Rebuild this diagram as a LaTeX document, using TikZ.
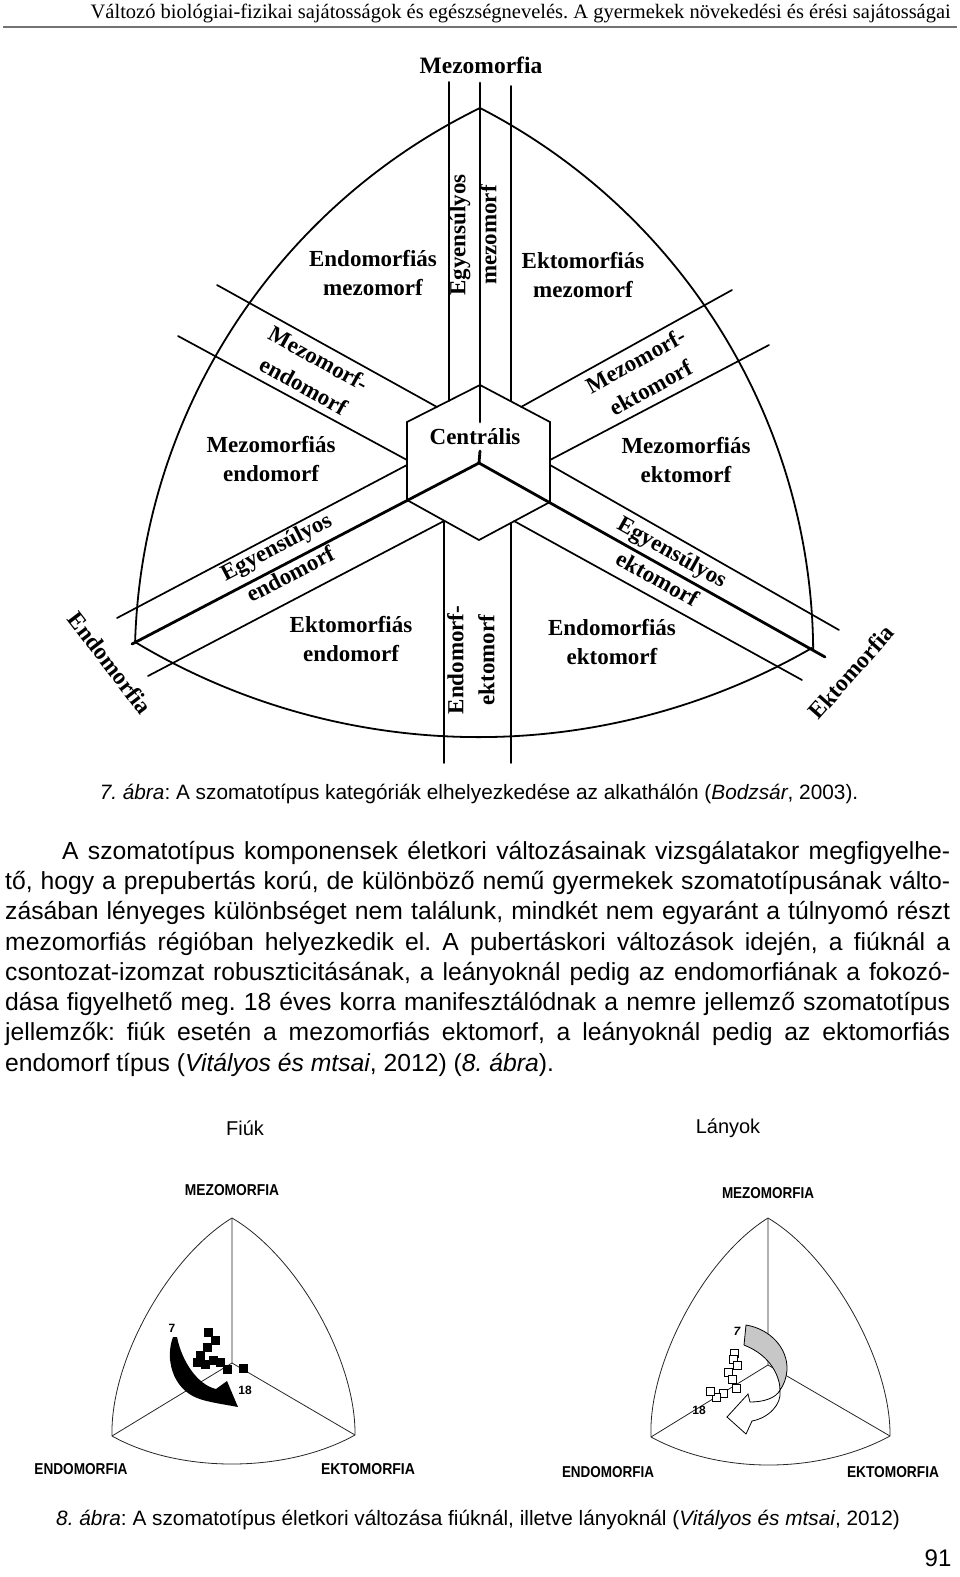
\documentclass[tikz,border=0pt]{standalone}
\usepackage{fontspec}
\setmainfont{Liberation Serif}
\setsansfont{Liberation Sans}
\frenchspacing
\begin{document}
\begin{tikzpicture}[x=1pt,y=-1pt,
  bline/.style={line width=1.7pt, line cap=round},
  axline/.style={line width=2.8pt, line cap=round},
  arcline/.style={line width=1.8pt},
  lab/.style={font=\bfseries\fontsize{23}{28.5}\selectfont, align=center, inner sep=0pt},
  rlab/.style={font=\bfseries\fontsize{23}{31}\selectfont, align=center, inner sep=0pt},
  clab/.style={font=\bfseries\fontsize{23.5}{28}\selectfont, inner sep=0pt},
  bodyline/.style={font=\sffamily\fontsize{24.7}{30}\selectfont, anchor=west, inner sep=0pt},
  captext/.style={font=\sffamily\fontsize{20.8}{25}\selectfont, inner sep=0pt},
  smallline/.style={line width=0.8pt, draw=black!85},
  slab/.style={inner sep=0pt, font=\sffamily\bfseries},
  numlab/.style={inner sep=0pt, font=\sffamily\bfseries\fontsize{12}{14}\selectfont},
  bsq/.style={fill=black, minimum size=9pt, inner sep=0pt},
  wsq/.style={fill=white, draw=black, line width=0.9pt, minimum size=8pt, inner sep=0pt}
]
\useasboundingbox (0,0) rectangle (960,1577);

% ---------- header ----------
\node[anchor=east, inner sep=0pt, font=\fontsize{20.5}{23}\selectfont] (head) at (951,13)
  {Változó biológiai-fizikai sajátosságok és egészségnevelés. A gyermekek növekedési és érési sajátosságai};
\draw[line width=1.2pt, draw=black!55] (3,27) -- (957,27);

% ---------- main somatochart ----------
\coordinate (T) at (480,108);
\coordinate (Lc) at (135,642);
\coordinate (Rc) at (813,650);
\coordinate (P0) at (479,463);

% outer curved triangle
\draw[arcline] (T) arc[start angle=-116.02, end angle=-178.23, radius=615];
\draw[arcline] (T) arc[start angle=-62.73, end angle=-0.47, radius=615];
\draw[arcline] (Lc) arc[start angle=120.95, end angle=60, radius=668];

% axes (thick)
\draw[axline] (480,83) -- (480,422);
\draw[axline] (480,451) -- (P0);
\draw[axline] (P0) -- (132,644);
\draw[axline] (P0) -- (825,657);

% central hexagon and diamond
\draw[bline] (407,500) -- (407,422) -- (480,385) -- (550,422) -- (550,502);
\draw[bline] (407,500) -- (479,540) -- (550,502);

% bands
\draw[bline] (449,82) -- (449,401);
\draw[bline] (511,86) -- (511,401);
\draw[bline] (217,285) -- (437,407);
\draw[bline] (178,336) -- (407,460);
\draw[bline] (732,290) -- (521,407);
\draw[bline] (769,345) -- (550,460);
\draw[bline] (407,465) -- (117,618);
\draw[bline] (444,521) -- (148,676);
\draw[bline] (550,465) -- (839,630);
\draw[bline] (514,521) -- (802,680);
\draw[bline] (444,521) -- (444,763);
\draw[bline] (511,523) -- (511,763);

% corner labels
\node[clab] (mezo) at (481,65) {Mezomorfia};
\node[clab, rotate=-52.5] (endo) at (110,663) {Endomorfia};
\node[clab, rotate=48.5] (ekto) at (851,672) {Ektomorfia};

% region labels
\node[lab] (r1) at (373,273) {Endomorfiás\\mezomorf};
\node[lab] (r2) at (583,275) {Ektomorfiás\\mezomorf};
\node[rlab, rotate=90] (r3) at (473,235) {Egyensúlyos\\mezomorf};
\node[rlab, rotate=-29] (r4) at (311,372) {Mezomorf-\\endomorf};
\node[rlab, rotate=29] (r5) at (643,374) {Mezomorf-\\ektomorf};
\node[lab] (r6) at (271,459) {Mezomorfiás\\endomorf};
\node[lab] (r7) at (475,437) {Centrális};
\node[lab] (r8) at (686,460) {Mezomorfiás\\ektomorf};
\node[rlab, rotate=27.5] (r9) at (283,560) {Egyensúlyos\\endomorf};
\node[rlab, rotate=-29.3] (r10) at (665,565) {Egyensúlyos\\ektomorf};
\node[lab] (r11) at (351,639) {Ektomorfiás\\endomorf};
\node[rlab, rotate=90] (r12) at (471,660) {Endomorf-\\ektomorf};
\node[lab] (r13) at (612,642) {Endomorfiás\\ektomorf};

% ---------- caption 7 ----------
\node[captext] (cap7) at (479,794)
  {\textit{7. ábra}: A szomatotípus kategóriák elhelyezkedése az alkathálón (\textit{Bodzsár}, 2003).};

% ---------- body text ----------
\node[bodyline] (b1) at (62,853) {\makebox[888pt][s]{A szomatotípus komponensek életkori változásainak vizsgálatakor megfigyelhe-}};
\node[bodyline] (b2) at (5,883) {\makebox[945pt][s]{tő, hogy a prepubertás korú, de különböző nemű gyermekek szomatotípusának válto-}};
\node[bodyline] (b3) at (5,913) {\makebox[945pt][s]{zásában lényeges különbséget nem találunk, mindkét nem egyaránt a túlnyomó részt}};
\node[bodyline] (b4) at (5,944) {\makebox[945pt][s]{mezomorfiás régióban helyezkedik el. A pubertáskori változások idején, a fiúknál a}};
\node[bodyline] (b5) at (5,974) {\makebox[945pt][s]{csontozat-izomzat robuszticitásának, a leányoknál pedig az endomorfiának a fokozó-}};
\node[bodyline] (b6) at (5,1004) {\makebox[945pt][s]{dása figyelhető meg. 18 éves korra manifesztálódnak a nemre jellemző szomatotípus}};
\node[bodyline] (b7) at (5,1034) {\makebox[945pt][s]{jellemzők: fiúk esetén a mezomorfiás ektomorf, a leányoknál pedig az ektomorfiás}};
\node[bodyline] (b8) at (5,1065) {endomorf típus (\textit{Vitályos és mtsai}, 2012) (\textit{8. ábra}).};

% ---------- sub-titles ----------
\node[captext, font=\sffamily\fontsize{20}{24}\selectfont] (fiuk) at (245,1128) {Fiúk};
\node[captext, font=\sffamily\fontsize{20}{24}\selectfont] (lanyok) at (728,1128) {Lányok};

% ---------- Fiuk chart ----------
\coordinate (fA) at (232,1218);
\coordinate (fL) at (112,1436);
\coordinate (fR) at (355,1435);
\coordinate (fC) at (232,1363);
\draw[smallline] (fA) .. controls (168,1257) and (110,1361) .. (fL);
\draw[smallline] (fA) .. controls (297,1256) and (356,1360) .. (fR);
\draw[smallline] (fL) .. controls (180,1474) and (287,1473) .. (fR);
\draw[smallline] (fA) -- (fC) -- (fL);
\draw[smallline] (fC) -- (fR);
\node[slab] (fmezo) at (232,1190) {\resizebox{94pt}{11pt}{MEZOMORFIA}};
\node[slab] (fendo) at (81,1469) {\resizebox{93pt}{11pt}{ENDOMORFIA}};
\node[slab] (fekto) at (368,1469) {\resizebox{94pt}{11pt}{EKTOMORFIA}};
\foreach \p [count=\i] in {(208,1332),(215,1340),(207,1347),(200,1355),(197,1362),(205,1364),(213,1360),(220,1362),(227,1369),(243,1368)}
  \node[bsq] (f\i) at \p {};
\fill[black] (173,1337) .. controls (165,1358) and (172,1388) .. (197,1398)
  .. controls (207,1402) and (222,1404) .. (238,1407) -- (227,1381) -- (216,1389)
  .. controls (198,1385) and (182,1362) .. (177,1337) -- cycle;
\node[numlab] (f7) at (172,1328) {7};
\node[numlab] (f18) at (245,1390) {18};

% ---------- Lanyok chart ----------
\coordinate (lA) at (768,1218);
\coordinate (lL) at (651,1437);
\coordinate (lR) at (890,1436);
\coordinate (lC) at (768,1365);
\draw[smallline] (lA) .. controls (705,1257) and (648,1363) .. (lL);
\draw[smallline] (lA) .. controls (832,1256) and (891,1362) .. (lR);
\draw[smallline] (lL) .. controls (721,1475) and (820,1474) .. (lR);
\draw[smallline] (lA) -- (lC) -- (lL);
\draw[smallline] (lC) -- (lR);
\node[slab] (lmezo) at (768,1193) {\resizebox{92pt}{11pt}{MEZOMORFIA}};
\node[slab] (lendo) at (608,1472) {\resizebox{92pt}{11pt}{ENDOMORFIA}};
\node[slab] (lekto) at (893,1472) {\resizebox{92pt}{11pt}{EKTOMORFIA}};
% ribbon arrow
\filldraw[fill=black!22, draw=black, line width=0.8pt]
  (746,1325) .. controls (770,1329) and (788,1348) .. (787,1370)
  .. controls (786,1380) and (783,1386) .. (780,1390)
  .. controls (780,1378) and (772,1356) .. (744,1345) -- cycle;
\filldraw[fill=white, draw=black, line width=0.8pt]
  (780,1390) .. controls (782,1405) and (768,1418) .. (752,1421)
  -- (746,1434) -- (727,1417) -- (748,1394) -- (750,1402)
  .. controls (764,1402) and (776,1398) .. (780,1390) -- cycle;
\foreach \p [count=\i] in {(734,1353),(733,1359),(737,1365),(728,1372),(732,1379),(736,1388),(723,1393),(716,1397),(710,1391)}
  \node[wsq] (l\i) at \p {};
\node[numlab, font=\sffamily\bfseries\itshape\fontsize{12}{14}\selectfont] (l7) at (737,1331) {7};
\node[numlab] (l18) at (699,1410) {18};

% ---------- caption 8 and page number ----------
\node[captext] (cap8) at (478,1520)
  {\textit{8. ábra}: A szomatotípus életkori változása fiúknál, illetve lányoknál (\textit{Vitályos és mtsai}, 2012)};
\node[inner sep=0pt, font=\sffamily\fontsize{24}{28}\selectfont] (page) at (938,1558) {91};
\end{tikzpicture}
\end{document}
